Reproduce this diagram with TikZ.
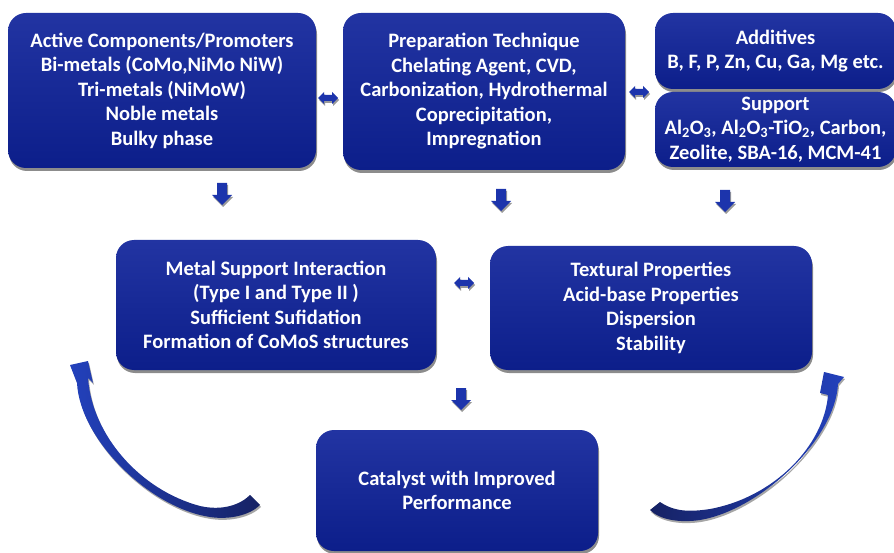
\documentclass[tikz,border=0pt]{standalone}
\usepackage{fontspec}
\setmainfont{Carlito}
\usetikzlibrary{shadows}
\definecolor{boxtop}{RGB}{34,52,162}
\definecolor{boxbot}{RGB}{12,30,138}
\definecolor{arrblue}{RGB}{28,52,172}
\definecolor{navy}{RGB}{22,34,100}
\definecolor{brightblue}{RGB}{35,65,188}
\begin{document}
\begin{tikzpicture}[x=1pt,y=-1pt,
  card/.style={rectangle, rounded corners=18pt, top color=boxtop, bottom color=boxbot,
    draw=none, text=white, align=center, inner sep=0pt,
    font=\fontsize{20.5}{24.5}\selectfont\bfseries,
    drop shadow={shadow xshift=1pt, shadow yshift=-3pt, opacity=0.45, fill=black}},
  blockarrow/.style={fill=arrblue, drop shadow={shadow xshift=1pt, shadow yshift=-2pt, opacity=0.4, fill=black}},
  curvearrow/.style={drop shadow={shadow xshift=1pt, shadow yshift=-2pt, opacity=0.35, fill=black}},
]
\useasboundingbox (0,0) rectangle (894,553);

% boxes
\node[card, minimum width=308pt, minimum height=155pt] (act) at (162,90.5)
  {Active Components/Promoters\\Bi-metals (CoMo,NiMo NiW)\\Tri-metals (NiMoW)\\Noble metals\\Bulky phase};
\node[card, minimum width=282pt, minimum height=157pt] (prep) at (484,91.5)
  {Preparation Technique\\Chelating Agent, CVD,\\Carbonization, Hydrothermal\\Coprecipitation,\\Impregnation};
\node[card, minimum width=241pt, minimum height=76pt] (add) at (775.5,51)
  {Additives\\B, F, P, Zn, Cu, Ga, Mg etc.};
\node[card, minimum width=241pt, minimum height=75pt] (sup) at (775.5,129.5)
  {Support\\Al\textsubscript{2}O\textsubscript{3}, Al\textsubscript{2}O\textsubscript{3}-TiO\textsubscript{2}, Carbon,\\Zeolite, SBA-16, MCM-41};
\node[card, minimum width=320pt, minimum height=130pt] (msi) at (276,305)
  {Metal Support Interaction\\(Type I and Type II )\\Sufficient Sufidation\\Formation of CoMoS structures};
\node[card, minimum width=322pt, minimum height=124pt] (tex) at (651,308)
  {Textural Properties\\Acid-base Properties\\Dispersion\\Stability};
\node[card, minimum width=282pt, minimum height=121pt] (cat) at (457,490.5)
  {Catalyst with Improved\\Performance};

% small down arrows
\coordinate (d1) at (222,183);
\coordinate (d2) at (501,189);
\coordinate (d3) at (725,190);
\coordinate (d4) at (461,388);
\foreach \p in {d1,d2,d3,d4}
  \fill[blockarrow, shift={(\p)}] (-5,0) -- (5,0) -- (5,12) -- (10,12) -- (0,22) -- (-10,12) -- (-5,12) -- cycle;

% small double arrows
\coordinate (h1) at (328,98);
\coordinate (h2) at (639,92);
\coordinate (h3) at (464,283);
\foreach \p in {h1,h2,h3}
  \fill[blockarrow, shift={(\p)}] (-10,0) -- (-4,-6) -- (-4,-3) -- (4,-3) -- (4,-6) -- (10,0) -- (4,6) -- (4,3) -- (-4,3) -- (-4,6) -- cycle;

% curved arrows
\shade[curvearrow, left color=brightblue, right color=navy]
  (70,365) -- (88,361) -- (93,383) -- (88,378)
  .. controls (92,435) and (140,490) .. (200,506)
  .. controls (222,511) and (240,505) .. (250,495)
  -- (260,505)
  .. controls (250,515) and (230,520) .. (210,517)
  .. controls (150,508) and (80,440) .. (77,383) -- cycle;
\shade[curvearrow, left color=navy, right color=brightblue]
  (824,372) -- (844,377) -- (838,384)
  .. controls (835,440) and (760,510) .. (700,520)
  .. controls (680,523) and (660,520) .. (650,510)
  -- (660,502)
  .. controls (675,512) and (690,512) .. (710,509)
  .. controls (775,497) and (824,445) .. (828,395)
  -- (820,393) -- cycle;
\end{tikzpicture}
\end{document}
